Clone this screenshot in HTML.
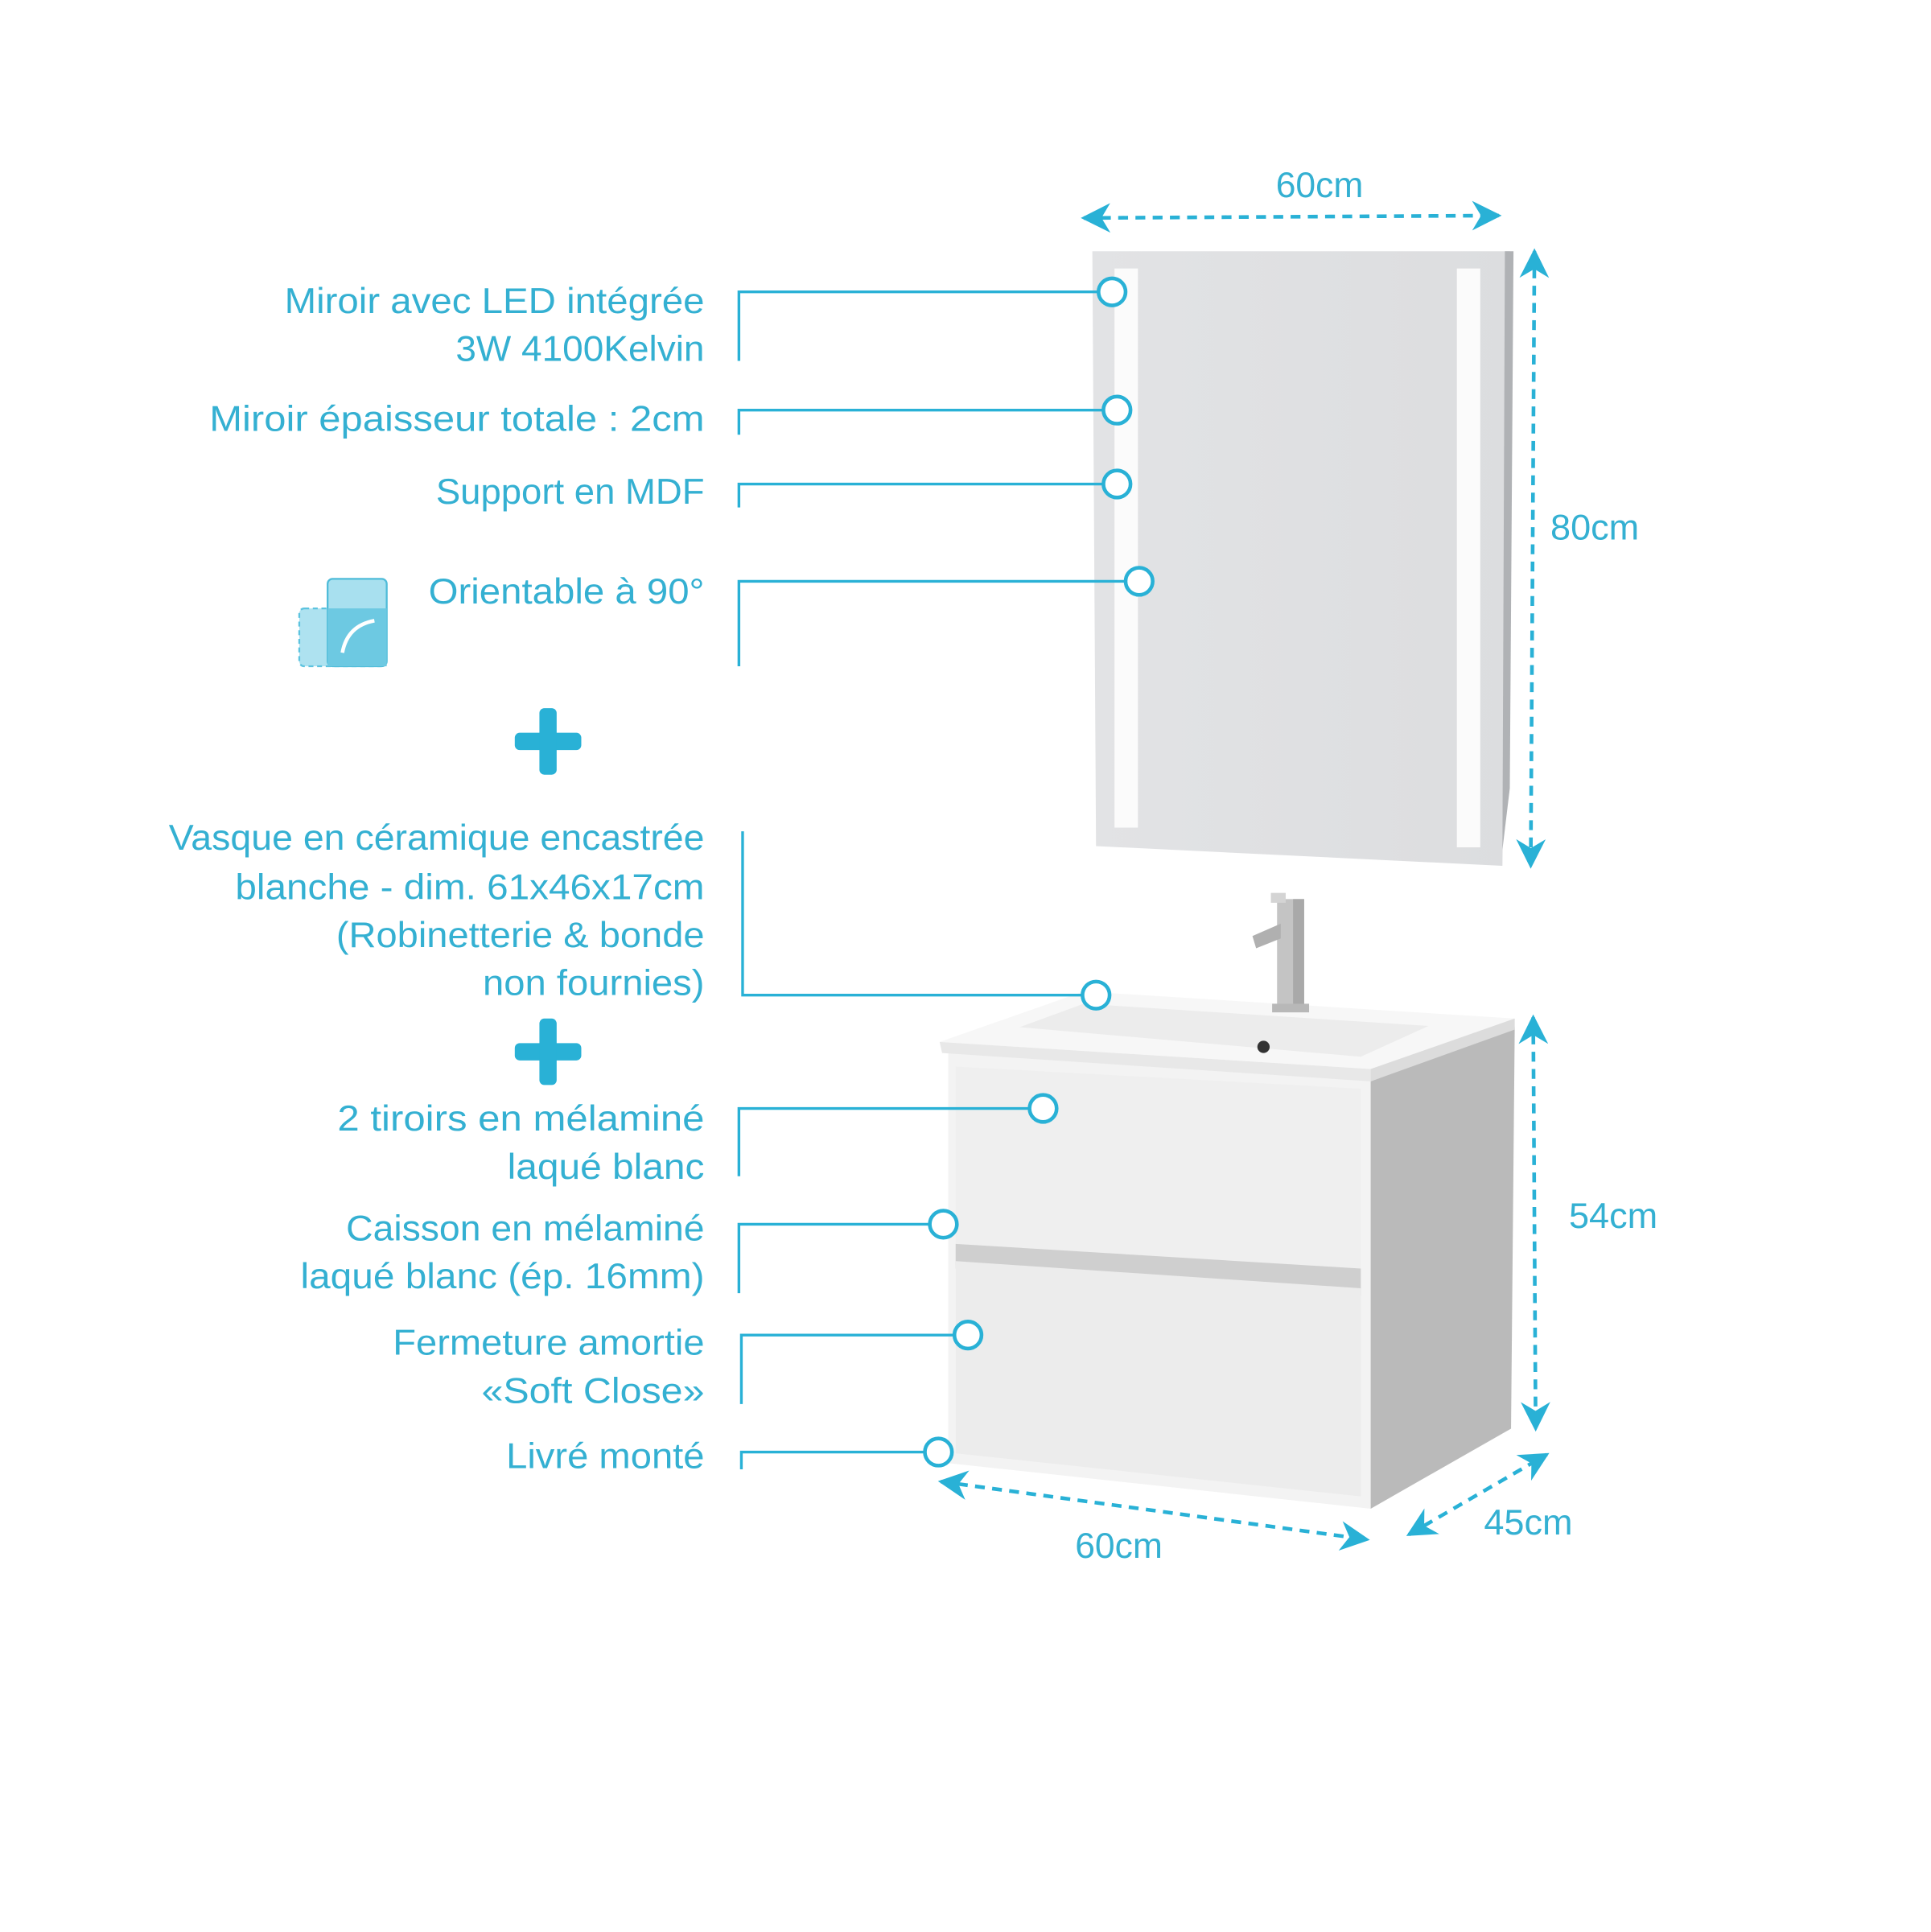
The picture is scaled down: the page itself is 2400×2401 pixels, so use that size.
<!DOCTYPE html>
<html><head><meta charset="utf-8"><style>
html,body{margin:0;padding:0;background:#fff;}
svg{display:block}
text{font-family:"Liberation Sans",sans-serif;fill:#34b0d2;font-size:29px;}
</style></head><body>
<svg width="2400" height="2401" viewBox="0 0 1568 1568.7" xmlns="http://www.w3.org/2000/svg">
<defs>
<marker id="ah" viewBox="0 0 10 10" refX="9" refY="5" markerWidth="26" markerHeight="24" orient="auto-start-reverse" markerUnits="userSpaceOnUse">
<path d="M0,0 L10,5 L0,10 L3,5 z" fill="#29b1d6"/></marker>
<linearGradient id="mg" x1="0" x2="1"><stop offset="0" stop-color="#e2e3e5"/><stop offset="1" stop-color="#dcdddf"/></linearGradient>
</defs>
<!-- mirror -->
<polygon points="887,204 1226,204 1220,703 890,687" fill="url(#mg)"/>
<polygon points="1222,204 1229,204 1226,640 1220,690" fill="#b0b2b5"/>
<rect x="905" y="218" width="19" height="454" fill="#fbfbfb"/>
<rect x="1183" y="218" width="19" height="470" fill="#fbfbfb"/>
<!-- cabinet -->
<polygon points="1113,878 1230,834 1227,1160 1113,1225" fill="#bababa"/>
<polygon points="770,852 1113,874 1113,1225 770,1188" fill="#f3f3f3"/>
<polygon points="776,866 1105,884 1105,1040 776,1020" fill="#efefef"/>
<polygon points="776,1010 1105,1030 1105,1052 776,1030" fill="#cfcfcf"/>
<polygon points="776,1024 1105,1046 1105,1215 776,1180" fill="#ececec"/>
<polygon points="763,846 880,805 1230,827 1113,868" fill="#f7f7f7"/>
<polygon points="763,846 1113,868 1113,878 765,855" fill="#e8e8e8"/>
<polygon points="1113,868 1230,827 1230,836 1113,878" fill="#dcdcdc"/>
<polygon points="828,834 880,815 1160,833 1105,858" fill="#ececec"/>
<circle cx="1026" cy="850" r="5" fill="#333"/>
<!-- faucet -->
<rect x="1037" y="730" width="22" height="90" fill="#c4c4c4"/>
<rect x="1050" y="730" width="9" height="90" fill="#a9a9a9"/>
<rect x="1032" y="725" width="12" height="8" fill="#d4d4d4"/>
<polygon points="1017,760 1040,750 1040,762 1020,770" fill="#b0b0b0"/>
<rect x="1033" y="815" width="30" height="7" fill="#b8b8b8"/>
<!-- dimension arrows -->
<g stroke="#29b1d6" stroke-width="3" stroke-dasharray="8,6" fill="none">
<line x1="880" y1="177" x2="1217" y2="175" marker-start="url(#ah)" marker-end="url(#ah)"/>
<line x1="1246" y1="204" x2="1243" y2="703" marker-start="url(#ah)" marker-end="url(#ah)"/>
<line x1="1245" y1="826" x2="1247" y2="1160" marker-start="url(#ah)" marker-end="url(#ah)"/>
<line x1="764" y1="1203" x2="1110" y2="1250" marker-start="url(#ah)" marker-end="url(#ah)"/>
<line x1="1144" y1="1246" x2="1256" y2="1181" marker-start="url(#ah)" marker-end="url(#ah)"/>
</g>
<text x="1036" y="160" textLength="71" lengthAdjust="spacingAndGlyphs">60cm</text>
<text x="1259" y="438" textLength="72" lengthAdjust="spacingAndGlyphs">80cm</text>
<text x="1274" y="997" textLength="72" lengthAdjust="spacingAndGlyphs">54cm</text>
<text x="873" y="1265" textLength="71" lengthAdjust="spacingAndGlyphs">60cm</text>
<text x="1205" y="1246" textLength="72" lengthAdjust="spacingAndGlyphs">45cm</text>
<!-- leaders -->
<g stroke="#29b1d6" stroke-width="2.2" fill="none">
<polyline points="600,293 600,237 892,237"/><circle cx="903" cy="237" r="11" fill="#fff" stroke-width="3"/>
<polyline points="600,353 600,333 896,333"/><circle cx="907" cy="333" r="11" fill="#fff" stroke-width="3"/>
<polyline points="600,412 600,393 896,393"/><circle cx="907" cy="393" r="11" fill="#fff" stroke-width="3"/>
<polyline points="600,541 600,472 914,472"/><circle cx="925" cy="472" r="11" fill="#fff" stroke-width="3"/>
<polyline points="603,675 603,808 879,808"/><circle cx="890" cy="808" r="11" fill="#fff" stroke-width="3"/>
<polyline points="600,955 600,900 836,900"/><circle cx="847" cy="900" r="11" fill="#fff" stroke-width="3"/>
<polyline points="600,1050 600,994 755,994"/><circle cx="766" cy="994" r="11" fill="#fff" stroke-width="3"/>
<polyline points="602,1140 602,1084 775,1084"/><circle cx="786" cy="1084" r="11" fill="#fff" stroke-width="3"/>
<polyline points="602,1193 602,1179 751,1179"/><circle cx="762" cy="1179" r="11" fill="#fff" stroke-width="3"/>
</g>
<!-- plus signs -->
<g fill="#29b1d6">
<rect x="418" y="595" width="54" height="14" rx="4"/><rect x="438" y="575" width="14" height="54" rx="4"/>
<rect x="418" y="847" width="54" height="14" rx="4"/><rect x="438" y="827" width="14" height="54" rx="4"/>
</g>
<!-- rotate icon -->
<rect x="243" y="494" width="70" height="47" rx="4" fill="#aee2f0" stroke="#5cc3df" stroke-width="1.5" stroke-dasharray="4,3"/>
<rect x="266" y="470" width="48" height="71" rx="4" fill="#a8e0ef" stroke="#4fbcd9" stroke-width="1.5"/>
<rect x="266" y="494" width="48" height="47" fill="#6dc9e2"/>
<path d="M278,530 Q282,508 304,504" stroke="#fff" stroke-width="3" fill="none"/>
<!-- texts -->
<text x="231" y="254" textLength="341" lengthAdjust="spacingAndGlyphs">Miroir avec LED intégrée</text>
<text x="370" y="293" textLength="202" lengthAdjust="spacingAndGlyphs">3W 4100Kelvin</text>
<text x="170" y="350" textLength="402" lengthAdjust="spacingAndGlyphs">Miroir épaisseur totale : 2cm</text>
<text x="354" y="409" textLength="218" lengthAdjust="spacingAndGlyphs">Support en MDF</text>
<text x="348" y="490" textLength="224" lengthAdjust="spacingAndGlyphs">Orientable à 90°</text>
<text x="137" y="690" textLength="435" lengthAdjust="spacingAndGlyphs">Vasque en céramique encastrée</text>
<text x="191" y="730" textLength="381" lengthAdjust="spacingAndGlyphs">blanche - dim. 61x46x17cm</text>
<text x="273" y="769" textLength="299" lengthAdjust="spacingAndGlyphs">(Robinetterie &amp; bonde</text>
<text x="392" y="808" textLength="180" lengthAdjust="spacingAndGlyphs">non fournies)</text>
<text x="274" y="918" textLength="298" lengthAdjust="spacingAndGlyphs">2 tiroirs en mélaminé</text>
<text x="412" y="957" textLength="160" lengthAdjust="spacingAndGlyphs">laqué blanc</text>
<text x="281" y="1007" textLength="291" lengthAdjust="spacingAndGlyphs">Caisson en mélaminé</text>
<text x="244" y="1046" textLength="328" lengthAdjust="spacingAndGlyphs">laqué blanc (ép. 16mm)</text>
<text x="319" y="1100" textLength="253" lengthAdjust="spacingAndGlyphs">Fermeture amortie</text>
<text x="391" y="1139" textLength="181" lengthAdjust="spacingAndGlyphs">«Soft Close»</text>
<text x="411" y="1192" textLength="161" lengthAdjust="spacingAndGlyphs">Livré monté</text>
</svg>
</body></html>
